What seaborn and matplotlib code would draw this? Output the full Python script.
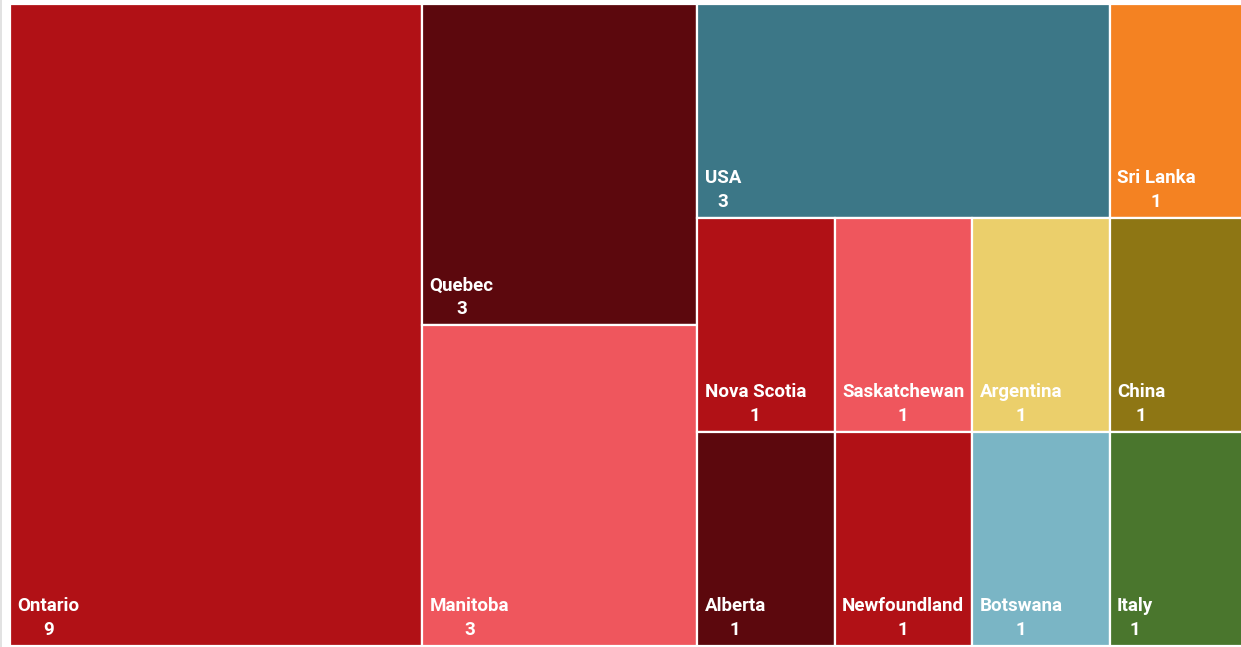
import matplotlib
matplotlib.use("Agg")
import matplotlib.pyplot as plt
import seaborn as sns

# --- data ---
regions = ["Ontario", "Quebec", "Manitoba", "USA", "Sri Lanka", "Nova Scotia", "Alberta",
           "Saskatchewan", "Newfoundland", "Argentina", "China", "Botswana", "Italy"]
counts = [9, 3, 3, 3, 1, 1, 1, 1, 1, 1, 1, 1, 1]
colours = ["#B11116", "#5C080D", "#EF565D", "#3C7787", "#F48222", "#B11116", "#5C080D",
           "#EF565D", "#B11116", "#EBCF6B", "#8E7614", "#7AB5C5", "#4A762D"]


def squarify(values, x0, y0, x1, y1):
    # squarified treemap, y grows downwards
    rects = []
    i0 = 0
    n = len(values)
    remaining = float(sum(values))
    while i0 < n:
        dx, dy = x1 - x0, y1 - y0
        side = min(dx, dy)

        def worst(row):
            s = sum(row)
            area = s / remaining * dx * dy
            length = area / side
            r = []
            for v in row:
                other = (v / s) * side
                r.append(max(length / other, other / length))
            return max(r)

        i1 = i0 + 1
        best = worst(values[i0:i1])
        while i1 < n:
            new = worst(values[i0:i1 + 1])
            if new >= best:
                break
            best = new
            i1 += 1
        row = values[i0:i1]
        s = sum(row)
        if dx < dy:
            # row laid horizontally at the top
            h = dy * s / remaining
            cx = x0
            for v in row:
                w = dx * v / s
                rects.append((cx, y0, w, h))
                cx += w
            y0 += h
        else:
            # column at the left
            w = dx * s / remaining
            cy = y0
            for v in row:
                h = dy * v / s
                rects.append((x0, cy, w, h))
                cy += h
            x0 += w
        remaining -= s
        i0 = i1
    return rects


sns.set_theme(style="white")
plt.rcParams["font.family"] = ["Roboto", "DejaVu Sans"]

fig = plt.figure(figsize=(12.41, 6.47), dpi=100)
# plot area runs a few pixels past the right edge, as in the original
ax = fig.add_axes([10 / 1241, 1 / 647, 1237 / 1241, 642 / 647])

W, H = 2.1, 1.0
rects = squarify(counts, 0, 0, W, H)

for (x, y, w, h), name, val, col in zip(rects, regions, counts, colours):
    ax.bar(x, h, width=w, bottom=y, align="edge", color=col,
           edgecolor="white", linewidth=1.6)
    ax.annotate(f"{name}\n{val}", xy=(x, y + h), xytext=(5.3, 5.0),
                textcoords="offset points", ha="left", va="bottom",
                multialignment="center", color="white", fontsize=13.5,
                fontweight="bold", linespacing=1.4)

ax.set_xlim(0, W)
ax.set_ylim(H, 0)
ax.axis("off")

fig.add_artist(plt.Line2D([0.5 / 1241, 0.5 / 1241], [0, 1], color="#DDDDDD", linewidth=1.2))

fig.savefig("out.png", dpi=100)
